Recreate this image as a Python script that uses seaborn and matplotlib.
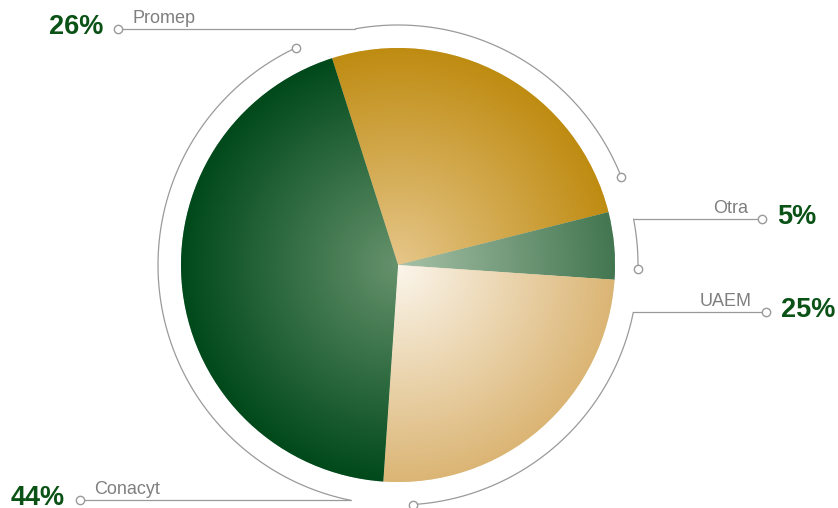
import numpy as np
import matplotlib
matplotlib.use("Agg")
import matplotlib.pyplot as plt
import seaborn as sns
from matplotlib.colors import to_rgb

# datos
labels = ["Promep", "Otra", "UAEM", "Conacyt"]
values = [26, 5, 25, 44]
pct_labels = ["26%", "5%", "25%", "44%"]
inner_colors = ["#e6c68a", "#a8c2a8", "#fbf6ec", "#66926c"]
outer_colors = ["#bf8c12", "#437651", "#dbb574", "#00491a"]

# extremos de las lineas guia (x en pixeles)
line_x = [118, 762, 766, 80]

sns.set_theme(style="white")
plt.rcParams["font.family"] = ["Liberation Sans", "DejaVu Sans"]

W, H = 838, 508
fig = plt.figure(figsize=(W / 100, H / 100), dpi=100)
ax = fig.add_axes([0, 0, 1, 1])

cx, cy, r = 398, H - 265, 217
r_arc = 240
start_compass = -17.7  # angulo (desde arriba, horario) donde empieza Promep

wedges, _ = ax.pie(values, startangle=90 - start_compass, counterclock=False,
                   center=(cx, cy), radius=r,
                   wedgeprops=dict(linewidth=0.6, edgecolor=(1, 1, 1, 0.6)))

# gradiente radial en cada porcion
n = 600
xs = np.linspace(cx - r, cx + r, n)
ys = np.linspace(cy - r, cy + r, n)
XX, YY = np.meshgrid(xs, ys)
t = np.clip(np.hypot(XX - cx, YY - cy) / r, 0, 1)[..., None]
for w, c_in, c_out in zip(wedges, inner_colors, outer_colors):
    w.set_facecolor(c_out)
    img = np.array(to_rgb(c_in)) * (1 - t) + np.array(to_rgb(c_out)) * t
    im = ax.imshow(img, extent=(cx - r, cx + r, cy - r, cy + r), origin="lower",
                   interpolation="bilinear", zorder=2)
    im.set_clip_path(w)

ax.set_xlim(0, W)
ax.set_ylim(0, H)
ax.set_aspect("equal")
ax.axis("off")


def pt(compass, rad):
    a = np.radians(compass)
    return cx + rad * np.sin(a), cy + rad * np.cos(a)


line_col = "#9a9a9a"
cum = np.concatenate([[0], np.cumsum(values)]) / sum(values) * 360 + start_compass
for i, lab in enumerate(labels):
    a0, a1 = cum[i], cum[i + 1]
    m = min(7.5, 0.17 * (a1 - a0))
    a_line, a_dot = a0 + m, a1 - m
    angs = np.linspace(a_line, a_dot, 100)
    px, py = pt(angs, r_arc)
    ax.plot(px, py, color=line_col, lw=0.9, zorder=3)
    ax.plot(px[-1], py[-1], "o", ms=6, mfc="white", mec=line_col, mew=1, zorder=4)

    lx, ly = pt(a_line, r_arc)
    ex = line_x[i]
    ax.plot([lx, ex], [ly, ly], color=line_col, lw=0.9, zorder=3)
    ax.plot(ex, ly, "o", ms=6, mfc="white", mec=line_col, mew=1, zorder=4)

    if ex < lx:
        ax.text(ex + 14, ly + 6, lab, ha="left", va="baseline", fontsize=13, color="#7f7f7f")
        ax.text(ex - 15, ly + 2, pct_labels[i], ha="right", va="center", fontsize=19.5,
                fontweight="bold", color="#0a5216")
    else:
        ax.text(ex - 14, ly + 6, lab, ha="right", va="baseline", fontsize=13, color="#7f7f7f")
        ax.text(ex + 15, ly + 2, pct_labels[i], ha="left", va="center", fontsize=19.5,
                fontweight="bold", color="#0a5216")

fig.savefig("out.png", dpi=100)
